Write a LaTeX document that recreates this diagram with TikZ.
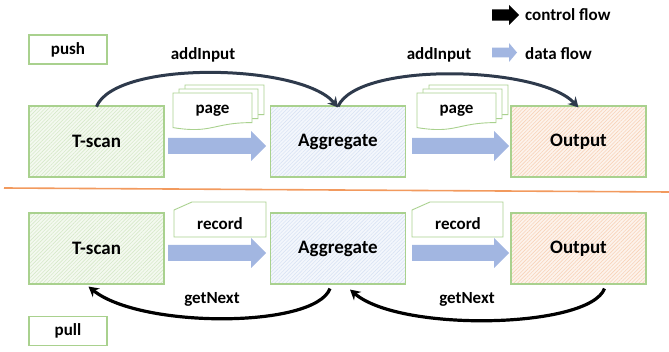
\documentclass[tikz,border=0pt]{standalone}
\usepackage{fontspec}
\setmainfont{Carlito}
\usetikzlibrary{arrows.meta,patterns.meta,calc}

\definecolor{boxedge}{HTML}{A9D18E}
\definecolor{gfill}{HTML}{F4F9F0}
\definecolor{gline}{HTML}{D6E9C9}
\definecolor{bfill}{HTML}{F4F7FC}
\definecolor{bline}{HTML}{D9E3F4}
\definecolor{ofill}{HTML}{FDF3EC}
\definecolor{oline}{HTML}{F8D3B9}
\definecolor{dataflow}{HTML}{A2B6E1}
\definecolor{ctrlcol}{HTML}{2E3A4C}
\definecolor{sepcol}{HTML}{F29A5E}

% block arrow: style, x, y (left middle), shaft length, shaft half height, head length, head half height
\newcommand\fatarrow[7]{%
  \path[#1] (#2,#3-#5) -- (#2+#4,#3-#5) -- (#2+#4,#3-#7) -- (#2+#4+#6,#3)
    -- (#2+#4,#3+#7) -- (#2+#4,#3+#5) -- (#2,#3+#5) -- cycle;}

\tikzset{
  lbl/.style={font=\fontsize{17}{20}\selectfont\bfseries, inner sep=0pt},
  stage/.style={draw=boxedge, line width=1.1pt, minimum width=135pt, minimum height=71pt,
    inner sep=0pt, font=\fontsize{19}{21}\selectfont\bfseries},
  greenbox/.style={stage, preaction={fill=gfill},
    pattern={Lines[angle=45,distance=2.6pt,line width=0.6pt]}, pattern color=gline},
  bluebox/.style={stage, preaction={fill=bfill},
    pattern={Lines[angle=45,distance=2.6pt,line width=0.6pt]}, pattern color=bline},
  orangebox/.style={stage, preaction={fill=ofill},
    pattern={Lines[angle=45,distance=2.6pt,line width=0.6pt]}, pattern color=oline},
  modebox/.style={draw=boxedge, line width=1.1pt, minimum width=78pt, minimum height=29pt,
    inner sep=0pt, font=\fontsize{17}{20}\selectfont\bfseries},
  docline/.style={draw=boxedge, line width=0.9pt, fill=white},
  dataarrow/.style={fill=dataflow},
  ctrlarrow/.style={fill=black},
  topctrl/.style={draw=ctrlcol, line width=3pt, -{Stealth[length=10pt,width=11pt]}},
  botctrl/.style={draw=black, line width=3.2pt, -{Stealth[length=10pt,width=11pt]}},
  pics/pagedoc/.style={code={
    \path[docline] (0,0) -- (79,0) -- (79,29.6)
      .. controls (39.5,29.6) and (39.5,41) .. (0,34.6) -- cycle;}},
}

\begin{document}
\begin{tikzpicture}[x=1pt,y=-1pt]
\useasboundingbox (0,0) rectangle (669,352);

% push / pull tags
\node[modebox] (push) at (68,49.5) {push};
\node[modebox] (pull) at (68,331) {pull};

% legend
\fatarrow{ctrlarrow}{492}{15}{17}{5.7}{10}{10}
\node[lbl, anchor=west] (lgctrl) at (525,15) {control flow};
\fatarrow{dataarrow}{492}{52.5}{17}{4.8}{8}{9.5}
\node[lbl, anchor=west] (lgdata) at (525,54) {data flow};

% push pipeline
\node[greenbox]  (tscanA) at (96.5,141.5) {T-scan};
\node[bluebox]   (aggA)   at (338,141.5)  {Aggregate};
\node[orangebox] (outA)   at (578.5,141.5) {Output};

\pic at (185,85) {pagedoc};
\pic at (179,89) {pagedoc};
\pic at (173,93) {pagedoc};
\node[lbl] (pageA) at (212.5,110.5) {page};
\pic at (429,85) {pagedoc};
\pic at (423,89) {pagedoc};
\pic at (417,93) {pagedoc};
\node[lbl] (pageB) at (456.5,110.5) {page};

\fatarrow{dataarrow}{168}{146}{83}{8}{15}{15}
\fatarrow{dataarrow}{412}{146}{82}{8}{15}{15}

\draw[topctrl] ([yshift=-1pt]tscanA.north) .. controls +(19,-47) and +(-37,-44) .. ([yshift=-2pt]aggA.north);
\draw[topctrl] ([yshift=-1pt]aggA.north) .. controls +(20,-45) and +(-40,-42) .. ([yshift=-2pt]outA.north);
\node[lbl] (addA) at (203,55) {addInput};
\node[lbl] (addB) at (439,55) {addInput};

% separator
\draw[sepcol, line width=1.6pt] (4,188) -- (669,192);

% pull pipeline
\node[greenbox]  (tscanB) at (96.5,248.5) {T-scan};
\node[bluebox]   (aggB)   at (338,248.5)  {Aggregate};
\node[orangebox] (outB)   at (578.5,248.5) {Output};

\path[docline] (174,210) -- (192,202) -- (266,202) -- (266,237) -- (174,237) -- cycle;
\node[lbl] (recA) at (220,224) {record};
\path[docline] (412,210) -- (430,202) -- (503,202) -- (503,237) -- (412,237) -- cycle;
\node[lbl] (recB) at (458,224) {record};

\fatarrow{dataarrow}{168}{253}{83}{8}{15}{15}
\fatarrow{dataarrow}{412}{253}{82}{8}{15}{15}

\coordinate (aggBleft) at ([xshift=-8pt,yshift=-4pt]aggB.south);
\coordinate (aggBright) at ([xshift=12pt,yshift=-5pt]aggB.south);
\coordinate (tscanBin) at ([xshift=-8pt,yshift=-2pt]tscanB.south);
\coordinate (outBout) at ([xshift=26pt,yshift=-4pt]outB.south);
\draw[botctrl] (aggBleft) .. controls +(-15,40) and +(52,42) .. (tscanBin);
\draw[botctrl] (outBout) .. controls +(-15,40) and +(50,43) .. (aggBright);
\node[lbl] (nextA) at (212,299) {getNext};
\node[lbl] (nextB) at (467,299) {getNext};
\end{tikzpicture}
\end{document}
